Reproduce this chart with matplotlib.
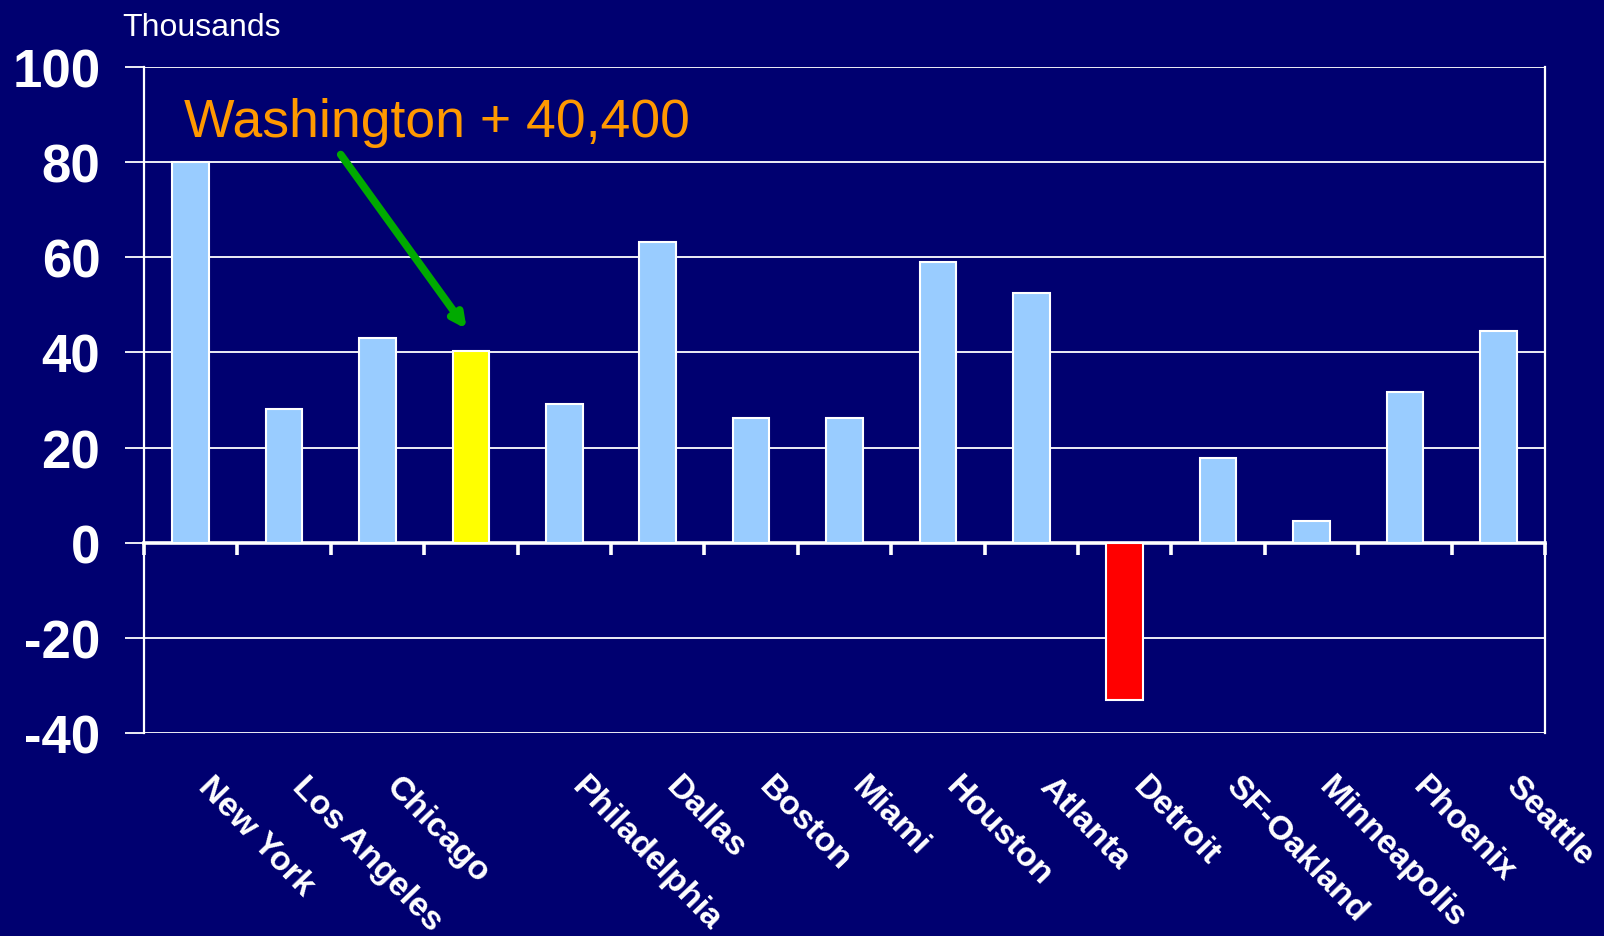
import numpy as np
import matplotlib.pyplot as plt
import matplotlib.transforms as mtransforms

plt.rcParams['font.family'] = ['Liberation Sans', 'DejaVu Sans']
plt.rcParams['axes.unicode_minus'] = False

# data (thousands of jobs)
cities = ['New York', 'Los Angeles', 'Chicago', '', 'Philadelphia', 'Dallas',
          'Boston', 'Miami', 'Houston', 'Atlanta', 'Detroit', 'SF-Oakland',
          'Minneapolis', 'Phoenix', 'Seattle']
values = [80.0, 28.1, 43.0, 40.4, 29.2, 63.3, 26.3, 26.3, 59.0, 52.5, -33.1,
          17.9, 4.5, 31.7, 44.5]
bar_colors = ['#99CCFF'] * 3 + ['#FFFF00'] + ['#99CCFF'] * 6 + ['#FF0000'] + ['#99CCFF'] * 4
y_ticks = [-40, -20, 0, 20, 40, 60, 80, 100]

navy = '#000070'

fig = plt.figure(figsize=(16.04, 9.37), dpi=100, facecolor=navy)
ax = fig.add_axes([144/1604, 1-734/937, (1545-144)/1604, (734-68)/937])
ax.set_facecolor(navy)

x = np.arange(len(cities))
ax.bar(x, values, width=0.39, color=bar_colors, edgecolor='white', linewidth=1.5, zorder=3)

ax.set_xlim(-0.5, len(cities) - 0.5)
ax.set_ylim(-40, 100)
ax.set_yticks(y_ticks)
ax.yaxis.grid(True, color='white', linewidth=1.3, zorder=1)
ax.set_axisbelow(True)

for s in ['top', 'bottom']:
    ax.spines[s].set_visible(False)
for s in ['left', 'right']:
    ax.spines[s].set_color('white')
    ax.spines[s].set_linewidth(1.6)

ax.tick_params(axis='y', direction='out', length=13.5, width=1.3, color='white',
               pad=18, labelsize=38, labelcolor='white')
for lab in ax.get_yticklabels():
    lab.set_fontweight('bold')

# category labels
ax.set_xticks(x)
ax.set_xticklabels(cities)
ax.tick_params(axis='x', length=0, pad=27, labelsize=24.5, labelcolor='white')
offset = mtransforms.ScaledTranslation(24/100, 0, fig.dpi_scale_trans)
for lab in ax.get_xticklabels():
    lab.set_rotation(-46)
    lab.set_ha('left')
    lab.set_va('top')
    lab.set_rotation_mode('anchor')
    lab.set_fontweight('bold')
    lab.set_transform(lab.get_transform() + offset)

# zero line with ticks between categories
zero_pos = (0 - (-40)) / (100 - (-40))
sec = ax.secondary_xaxis(zero_pos)
sec.set_xticks(np.arange(len(cities) + 1) - 0.5)
sec.tick_params(axis='x', direction='out', length=8.5, width=2.6, color='white', labelbottom=False, labeltop=False)
sec.spines['bottom'].set_color('white')
sec.spines['bottom'].set_linewidth(2.6)
sec.spines['top'].set_visible(False)

fig.text(122/1604, 1-36/937, 'Thousands', color='white', fontsize=23, va='baseline')

ax.text(-0.07, 85.6, 'Washington + 40,400', color='#FF9900', fontsize=38.5, va='baseline', zorder=5)
ax.annotate('', xy=(2.955, 44.9), xytext=(1.606, 81.6),
            arrowprops=dict(arrowstyle='-|>,head_length=0.8,head_width=0.4', color='#00AA00', lw=5.5,
                            shrinkA=0, shrinkB=0), zorder=5)

fig.savefig('out.png', dpi=100, facecolor=navy)
